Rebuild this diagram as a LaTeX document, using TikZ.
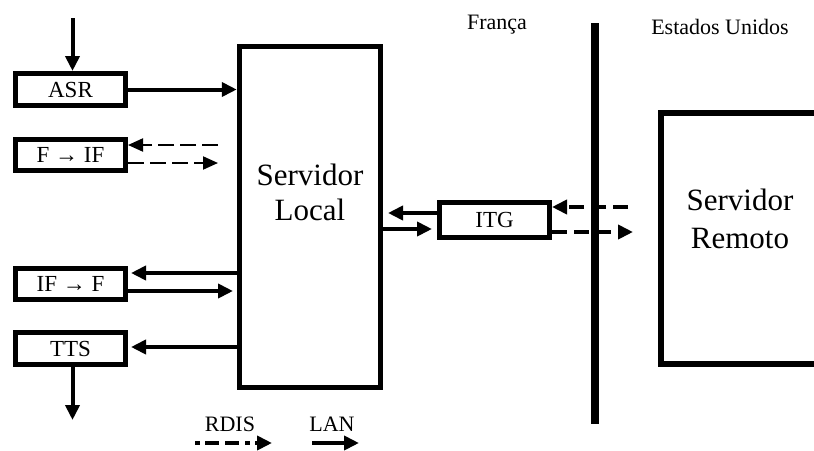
\documentclass[tikz,border=0pt]{standalone}
\usepackage{fontspec}
\setmainfont{Liberation Serif}
\usetikzlibrary{arrows.meta}
\begin{document}
\begin{tikzpicture}[x=1pt,y=-1pt,
  box/.style={draw,line width=5pt,minimum width=110pt,minimum height=32pt,inner sep=0pt,font=\fontsize{23}{26}\selectfont},
  bigbox/.style={draw,line width=5.5pt,inner sep=0pt},
  lbl/.style={font=\fontsize{22}{25}\selectfont,inner sep=0pt},
  bigtxt/.style={align=center,inner sep=0pt},
  arr/.style={line width=4pt,-{Triangle[length=15pt,width=14pt]}},
  thindash/.style={line width=2pt,dash pattern=on 16pt off 6pt,-{Triangle[length=15pt,width=13pt]}},
  thickdash/.style={line width=4pt,dash pattern=on 15pt off 7pt,-{Triangle[length=15pt,width=14pt]}},
  dashdotarr/.style={line width=4pt,dash pattern=on 5pt off 5pt on 14pt off 6pt on 14pt off 6pt,-{Triangle[length=15pt,width=14pt]}}
]
\useasboundingbox (0,0) rectangle (814,450);
\clip (0,0) rectangle (814,450);

% boxes
\node[box] (asr) at (70.5,89.5) {ASR};
\node[box,minimum height=31pt] (fif) at (70.5,155) {F → IF};
\node[box,minimum height=31pt] (iff) at (70.5,284) {IF → F};
\node[box] (tts) at (70.5,348.5) {TTS};
\node[bigbox,minimum width=141pt,minimum height=341pt] (local) at (310,217) {};
\node[bigtxt,font=\fontsize{31}{35}\selectfont] (localtxt) at (310,192) {Servidor\\Local};
\node[box,minimum height=35pt] (itg) at (494.5,220) {ITG};
\node[bigbox,minimum width=164pt,minimum height=251pt] (remote) at (743,238.5) {};
\node[bigtxt,font=\fontsize{31}{38}\selectfont] (remotetxt) at (740,219) {Servidor\\Remoto};

% labels
\node[lbl] (fr) at (497,25) {França};
\node[lbl] (us) at (720,27) {Estados Unidos};
\node[lbl] (rdis) at (230,424) {RDIS};
\node[lbl] (lan) at (332,424) {LAN};

% divider
\coordinate (dtop) at (595,23);
\coordinate (dbot) at (595,424);
\draw[line width=8pt] (dtop) -- (dbot);

% ASR
\coordinate (asrin) at (72.5,18);
\draw[arr] (asrin) -- (asrin |- asr.north);
\draw[arr] (asr.east) -- (asr.east -| local.west);

% F -> IF
\coordinate (fa) at (218,145);
\coordinate (fb) at (218,163);
\draw[thindash] (fa) -- (fa -| fif.east);
\draw[thindash] (fb -| fif.east) -- (fb);

% IF -> F
\coordinate (ia) at (131,273);
\coordinate (ib) at (233,291);
\draw[arr] (local.west |- ia) -- (ia);
\draw[arr] (iff.east |- ib) -- (ib);

% TTS
\coordinate (ta) at (131,347);
\draw[arr] (local.west |- ta) -- (ta);
\coordinate (ttsout) at (72.5,420);
\draw[arr] (tts.south -| ttsout) -- (ttsout);

% ITG <-> local
\coordinate (ga) at (388,213);
\coordinate (gb) at (432,229);
\draw[arr] (itg.west |- ga) -- (ga);
\draw[arr] (local.east |- gb) -- (gb);

% ITG <-> remote (dashed)
\coordinate (d1) at (628,207);
\coordinate (d2) at (633,232);
\draw[thickdash] (d1) -- (itg.east |- d1);
\draw[thickdash] (itg.east |- d2) -- (d2);

% legend
\coordinate (l1a) at (195,443);
\coordinate (l1b) at (272,443);
\draw[dashdotarr] (l1a) -- (l1b);
\coordinate (l2a) at (312,443);
\coordinate (l2b) at (359,443);
\draw[arr] (l2a) -- (l2b);
\end{tikzpicture}
\end{document}
